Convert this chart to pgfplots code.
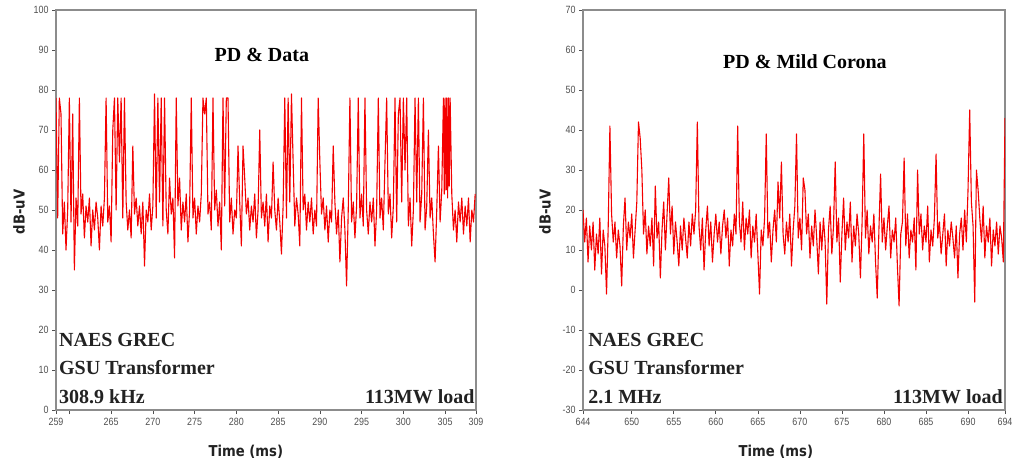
\documentclass[border=0pt]{standalone}
\usepackage{pgfplots}
\pgfplotsset{compat=1.18}
\usepackage{fontspec}
\setmainfont{Liberation Serif}
\newfontfamily\tickfont[FakeStretch=0.85]{Liberation Sans}
\newfontfamily\labfont[FakeStretch=0.88]{DejaVu Sans}
\definecolor{framegray}{HTML}{8C8C8C}
\definecolor{ticktext}{HTML}{505050}
\definecolor{annot}{HTML}{222222}
\definecolor{sig}{HTML}{F40000}
\pgfplotsset{
  mystyle/.style={
    scale only axis, width=420pt, height=400pt,
    axis line style={framegray, line width=1.4pt},
    tick align=outside, xtick pos=bottom, ytick pos=left,
    major tick length=4pt,
    tick style={ticktext, line width=0.7pt},
    ticklabel style={font=\tickfont\fontsize{10.5}{10.5}\selectfont, text=ticktext},
    /pgf/number format/assume math mode=true,
    xticklabel style={yshift=-1pt},
    label style={font=\labfont\bfseries\fontsize{15}{15}\selectfont, text=annot},
    ylabel={dB-uV},
    xlabel={Time (ms)},
  }
}
\begin{document}
\begin{tikzpicture}
\useasboundingbox (0,0) rectangle (1016pt,467pt);
\begin{axis}[mystyle,
  at={(56pt,57pt)}, anchor=south west,
  xmin=258.4, xmax=308.7, ymin=0, ymax=100,
  ytick={0,10,...,100},
  xtick={258.4,260,265,270,275,280,285,290,295,300,305,308.7},
  xticklabels={259,,265,270,275,280,285,290,295,300,305,309},
  xlabel style={at={(axis description cs:0.452,-0.105)}, anchor=center},
  ylabel style={at={(axis description cs:-0.088,0.495)}, anchor=center},
]
\addplot[sig, line width=1.1pt, line join=round] table {
258.4 78
258.6 48
258.8 78
259.0 74
259.2 44
259.4 52
259.6 40
259.8 50
260.0 78
260.2 47
260.4 74
260.6 35
260.8 53
261.0 46
261.2 78
261.4 49
261.6 54
261.8 43
262.0 51
262.2 47
262.4 53
262.6 41
262.8 50
263.0 45
263.2 52
263.4 48
263.6 40
263.8 51
264.0 46
264.2 53
264.4 78
264.6 47
264.8 51
265.0 42
265.2 70
265.4 78
265.6 50
265.8 78
266.0 62
266.2 78
266.4 48
266.6 78
266.8 52
267.0 45
267.2 50
267.4 43
267.6 66
267.8 49
268.0 53
268.2 46
268.4 51
268.6 44
268.8 52
269.0 36
269.2 50
269.4 47
269.6 54
269.8 45
270.0 51
270.2 79
270.4 48
270.6 78
270.8 52
271.0 78
271.2 46
271.4 78
271.6 50
271.8 44
272.0 58
272.2 49
272.4 53
272.6 38
272.8 78
273.0 51
273.2 58
273.4 45
273.6 52
273.8 47
274.0 54
274.2 42
274.4 50
274.6 78
274.8 48
275.0 53
275.2 44
275.4 51
275.6 47
275.8 54
276.0 78
276.2 74
276.4 78
276.6 49
276.8 52
277.0 45
277.2 78
277.4 50
277.6 55
277.8 46
278.0 52
278.2 40
278.4 78
278.6 51
278.8 78
279.0 78
279.2 47
279.4 53
279.6 44
279.8 50
280.0 48
280.2 66
280.4 52
280.6 41
280.8 66
281.0 58
281.2 49
281.4 53
281.6 45
281.8 51
282.0 47
282.2 54
282.4 43
282.6 50
282.8 70
283.0 48
283.2 52
283.4 46
283.6 54
283.8 42
284.0 51
284.2 48
284.4 62
284.6 50
284.8 45
285.0 53
285.2 47
285.4 39
285.6 51
285.8 78
286.0 48
286.2 78
286.4 52
286.6 79
286.8 62
287.0 46
287.2 53
287.4 49
287.6 41
287.8 78
288.0 50
288.2 54
288.4 45
288.6 52
288.8 47
289.0 53
289.2 44
289.4 50
289.6 46
289.8 78
290.0 62
290.2 49
290.4 53
290.6 45
290.8 51
291.0 42
291.2 50
291.4 47
291.6 66
291.8 52
292.0 44
292.2 50
292.4 37
292.6 48
292.8 53
293.0 45
293.2 31
293.4 50
293.6 78
293.8 47
294.0 52
294.2 43
294.4 51
294.6 78
294.8 48
295.0 54
295.2 46
295.4 78
295.6 50
295.8 44
296.0 52
296.2 47
296.4 53
296.6 41
296.8 50
297.0 78
297.2 48
297.4 53
297.6 45
297.8 62
298.0 78
298.2 49
298.4 54
298.6 43
298.8 51
299.0 78
299.2 47
299.4 74
299.6 78
299.8 52
300.0 78
300.2 60
300.4 78
300.6 46
300.8 53
301.0 41
301.2 50
301.4 78
301.6 52
301.8 78
302.0 47
302.2 54
302.4 78
302.6 45
302.8 51
303.0 70
303.2 48
303.4 53
303.6 44
303.8 37
304.0 50
304.2 66
304.4 47
304.6 55
304.8 78
304.9 54
305.0 78
305.1 55
305.2 78
305.3 53
305.4 78
305.5 56
305.6 78
305.8 54
306.0 45
306.2 50
306.4 42
306.6 52
306.8 47
307.0 53
307.2 44
307.4 51
307.6 46
307.8 53
308.0 42
308.2 50
308.4 47
308.6 54
};
\node[font=\bfseries\fontsize{20}{20}\selectfont, anchor=center] at (rel axis cs:0.49,0.8875) {PD \& Data};
\node[font=\bfseries\fontsize{20}{20}\selectfont, text=annot, anchor=west, inner sep=0pt] at (rel axis cs:0.007,0.175) {NAES GREC};
\node[font=\bfseries\fontsize{20}{20}\selectfont, text=annot, anchor=west, inner sep=0pt] at (rel axis cs:0.007,0.105) {GSU Transformer};
\node[font=\bfseries\fontsize{20}{20}\selectfont, text=annot, anchor=west, inner sep=0pt] at (rel axis cs:0.007,0.0325) {308.9 kHz};
\node[font=\bfseries\fontsize{20}{20}\selectfont, text=annot, anchor=east, inner sep=0pt] at (rel axis cs:0.997,0.0325) {113MW load};
\end{axis}
\begin{axis}[mystyle,
  at={(583pt,57pt)}, anchor=south west, width=422pt,
  xmin=644.2, xmax=694.4, ymin=-30, ymax=70,
  ytick={-30,-20,...,70},
  xtick={644.2,650,655,660,665,670,675,680,685,690,694.4},
  xticklabels={644,650,655,660,665,670,675,680,685,690,694},
  xlabel style={at={(axis description cs:0.457,-0.105)}, anchor=center},
  ylabel style={at={(axis description cs:-0.09,0.495)}, anchor=center},
]
\addplot[sig, line width=1.1pt, line join=round] table {
644.2 20
644.4 12
644.6 18
644.8 7
645.0 16
645.2 10
645.4 17
645.6 5
645.8 14
646.0 9
646.2 18
646.4 4
646.6 15
646.8 11
647.0 -1
647.2 16
647.4 41
647.6 19
647.8 12
648.0 17
648.2 8
648.4 15
648.6 11
648.8 1
649.0 16
649.2 23
649.4 10
649.6 17
649.8 13
650.0 19
650.2 8
650.4 15
650.6 22
650.8 42
651.0 38
651.2 30
651.4 14
651.6 20
651.8 9
652.0 16
652.2 11
652.4 18
652.6 6
652.8 26
653.0 13
653.2 17
653.4 3
653.6 15
653.8 22
654.0 10
654.2 19
654.4 28
654.6 14
654.8 21
655.0 9
655.2 17
655.4 12
655.6 6
655.8 16
656.0 10
656.2 18
656.4 13
656.6 8
656.8 17
657.0 11
657.2 19
657.4 14
657.6 20
657.8 42
658.0 16
658.2 10
658.4 18
658.6 5
658.8 15
659.0 21
659.2 11
659.4 17
659.6 7
659.8 14
660.0 19
660.2 12
660.4 17
660.6 9
660.8 16
661.0 20
661.2 13
661.4 18
661.6 6
661.8 15
662.0 11
662.2 19
662.4 14
662.6 41
662.8 17
663.0 12
663.2 22
663.4 10
663.6 18
663.8 14
664.0 20
664.2 8
664.4 16
664.6 12
664.8 19
665.0 9
665.2 -1
665.4 15
665.6 11
665.8 18
666.0 39
666.2 13
666.4 17
666.6 7
666.8 15
667.0 20
667.2 12
667.4 27
667.6 18
667.8 32
668.0 14
668.2 9
668.4 17
668.6 12
668.8 19
669.0 6
669.2 15
669.4 21
669.6 39
669.8 13
670.0 18
670.2 10
670.4 28
670.6 25
670.8 14
671.0 19
671.2 8
671.4 16
671.6 11
671.8 20
672.0 13
672.2 4
672.4 17
672.6 10
672.8 18
673.0 12
673.2 -3.5
673.4 15
673.6 21
673.8 9
674.0 16
674.2 32
674.4 12
674.6 18
674.8 2
675.0 14
675.2 23
675.4 10
675.6 17
675.8 13
676.0 22
676.2 7
676.4 16
676.6 11
676.8 19
677.0 14
677.2 3
677.4 17
677.6 39
677.8 13
678.0 20
678.2 9
678.4 16
678.6 12
678.8 19
679.0 7
679.2 -2
679.4 15
679.6 29
679.8 12
680.0 18
680.2 10
680.4 16
680.6 21
680.8 8
681.0 15
681.2 12
681.4 18
681.6 6
681.8 -4
682.0 14
682.2 17
682.4 33
682.6 11
682.8 19
683.0 8
683.2 15
683.4 12
683.6 18
683.8 5
684.0 30
684.2 14
684.4 19
684.6 10
684.8 16
685.0 12
685.2 21
685.4 7
685.6 15
685.8 11
686.0 18
686.2 34
686.4 13
686.6 17
686.8 9
687.0 14
687.2 19
687.4 6
687.6 15
687.8 11
688.0 17
688.2 13
688.4 8
688.6 16
688.8 3
689.0 14
689.2 18
689.4 10
689.6 20
689.8 12
690.0 25
690.2 45
690.4 22
690.6 16
690.8 -3
691.0 30
691.2 25
691.4 18
691.6 12
691.8 21
692.0 8
692.2 16
692.4 12
692.6 18
692.8 6
693.0 15
693.2 11
693.4 17
693.6 9
693.8 16
694.0 13
694.2 7
694.4 43
};
\node[font=\bfseries\fontsize{20}{20}\selectfont, anchor=center] at (rel axis cs:0.526,0.87) {PD \& Mild Corona};
\node[font=\bfseries\fontsize{20}{20}\selectfont, text=annot, anchor=west, inner sep=0pt] at (rel axis cs:0.012,0.175) {NAES GREC};
\node[font=\bfseries\fontsize{20}{20}\selectfont, text=annot, anchor=west, inner sep=0pt] at (rel axis cs:0.012,0.105) {GSU Transformer};
\node[font=\bfseries\fontsize{20}{20}\selectfont, text=annot, anchor=west, inner sep=0pt] at (rel axis cs:0.012,0.0325) {2.1 MHz};
\node[font=\bfseries\fontsize{20}{20}\selectfont, text=annot, anchor=east, inner sep=0pt] at (rel axis cs:0.995,0.0325) {113MW load};
\end{axis}
\end{tikzpicture}
\end{document}
